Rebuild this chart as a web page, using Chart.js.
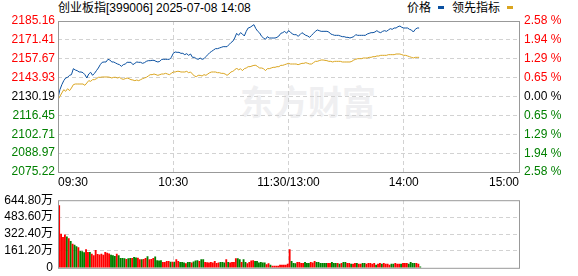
<!DOCTYPE html>
<html><head><meta charset="utf-8">
<script src="https://cdn.jsdelivr.net/npm/chart.js@4"></script>
<style>
html,body{margin:0;padding:0;width:578px;height:276px;overflow:hidden;background:#fff;font-family:"Liberation Sans",Arial,"Noto Sans CJK SC",sans-serif;}
#title{position:absolute;left:58px;top:1px;font-size:12px;line-height:15px;color:#000;white-space:nowrap;}
#legend{position:absolute;left:407px;top:1px;font-size:12px;line-height:15px;color:#000;white-space:nowrap;}
.mk{display:inline-block;width:6px;height:3px;vertical-align:3px;margin:0 8px 0 7px;}
#wm{position:absolute;left:240px;top:76px;font-size:34px;font-weight:bold;color:#efeff1;font-family:"Noto Sans CJK SC";white-space:nowrap;}
#c1{position:absolute;left:0;top:0;}
#c2{position:absolute;left:0;top:188px;}
</style></head>
<body>
<div id="wm">东方财富</div>
<div id="title">创业板指[399006] 2025-07-08 14:08</div>
<div id="legend">价格<span class="mk" style="background:#0a50a0"></span>领先指标<span class="mk" style="background:#daa520"></span></div>
<canvas id="c1" width="578" height="192"></canvas>
<canvas id="c2" width="578" height="92"></canvas>
<script>
const prevClose = 2130.19;
const priceTicks = [2075.22,2088.97,2102.71,2116.45,2130.19,2143.93,2157.67,2171.41,2185.16];
const pctTicks = [-2.58,-1.94,-1.29,-0.65,0,0.65,1.29,1.94,2.58];
const volTicks = [0,161.2,322.4,483.6,644.8];
const timeTicks = [0,60,120,180,240];
const timeLabels = ['09:30','10:30','11:30/13:00','14:00','15:00'];

const price = [
2129.10,2135.17,2138.81,2141.72,2143.66,2144.15,2145.60,2146.09,2150.46,2149.48,
2149.00,2148.03,2148.03,2147.54,2146.09,2143.66,2146.57,2147.79,2145.60,2147.06,
2149.00,2150.94,2153.37,2155.07,2155.31,2155.31,2157.25,2156.77,2155.31,2155.31,
2154.58,2153.85,2153.37,2152.15,2153.37,2153.85,2155.07,2155.07,2155.07,2153.37,
2154.34,2155.31,2155.07,2155.07,2154.34,2154.82,2155.79,2156.28,2156.28,2156.52,
2156.52,2155.79,2155.31,2155.79,2157.25,2157.25,2157.25,2157.25,2157.25,2158.71,
2161.62,2162.59,2162.35,2162.35,2161.62,2161.62,2160.65,2161.38,2160.16,2161.13,
2158.71,2158.71,2157.74,2157.25,2158.22,2157.25,2157.74,2159.19,2160.65,2162.10,
2163.08,2164.05,2165.02,2165.02,2165.50,2165.99,2166.47,2166.47,2166.47,2167.93,
2169.39,2170.36,2172.78,2176.18,2174.72,2176.67,2175.69,2174.24,2177.64,2180.06,
2180.55,2181.52,2182.49,2179.58,2177.64,2176.42,2174.00,2172.78,2171.81,2173.75,
2172.78,2172.78,2172.78,2172.78,2173.27,2174.24,2176.18,2176.67,2177.64,2176.18,
2178.12,2177.15,2175.69,2175.21,2175.21,2174.00,2175.21,2176.67,2175.69,2174.72,
2174.24,2173.27,2174.72,2176.18,2177.64,2178.61,2178.12,2177.64,2177.64,2177.64,
2177.64,2177.15,2175.69,2175.21,2174.72,2174.72,2174.72,2174.24,2173.75,2173.75,
2173.27,2173.27,2172.78,2173.27,2173.75,2175.21,2174.72,2174.72,2174.72,2174.72,
2174.72,2175.69,2176.18,2176.67,2176.67,2177.15,2178.12,2177.15,2176.67,2177.64,
2178.12,2177.64,2178.61,2179.58,2179.09,2180.06,2180.06,2181.03,2181.52,2180.55,
2180.06,2180.06,2180.06,2179.09,2178.61,2177.15,2179.09,2180.06,2180.06];

const lead = [
2127.89,2130.31,2132.74,2135.17,2133.95,2135.89,2134.44,2136.38,2138.81,2139.29,
2139.29,2139.29,2139.29,2139.29,2138.32,2140.02,2141.72,2141.23,2142.45,2142.45,
2143.17,2144.15,2144.15,2144.39,2144.39,2144.39,2144.39,2144.15,2143.66,2144.15,
2144.15,2143.66,2144.15,2143.17,2142.69,2143.17,2143.66,2143.17,2142.45,2142.20,
2141.72,2142.20,2141.72,2142.45,2143.17,2143.66,2144.15,2145.12,2146.09,2146.09,
2146.57,2146.09,2145.60,2146.09,2146.57,2146.57,2147.06,2146.57,2146.09,2147.06,
2148.03,2148.03,2148.51,2148.51,2148.03,2148.03,2148.03,2148.51,2147.54,2148.03,
2146.57,2145.12,2144.63,2145.60,2145.60,2145.12,2146.09,2145.60,2146.57,2147.54,
2148.03,2148.03,2148.03,2147.54,2147.54,2147.06,2147.06,2146.57,2145.60,2146.57,
2148.03,2148.51,2149.48,2150.94,2149.48,2150.46,2149.00,2150.46,2150.94,2151.91,
2151.91,2152.40,2152.88,2152.88,2151.91,2150.94,2150.94,2150.46,2149.00,2150.46,
2150.46,2150.94,2151.43,2151.43,2151.91,2151.91,2152.88,2152.88,2153.37,2153.85,
2154.34,2153.85,2153.85,2153.85,2153.85,2153.37,2153.85,2154.34,2154.34,2154.82,
2154.34,2153.85,2153.85,2154.82,2155.79,2155.79,2156.28,2156.77,2156.77,2156.52,
2156.28,2155.79,2155.79,2155.31,2155.79,2155.79,2155.79,2155.79,2155.31,2155.31,
2155.31,2155.31,2155.31,2155.79,2156.77,2157.25,2157.74,2157.74,2157.74,2158.22,
2158.22,2158.22,2158.71,2158.71,2159.19,2159.19,2159.68,2159.68,2160.16,2160.16,
2160.16,2160.16,2160.65,2160.65,2160.65,2160.65,2161.13,2161.13,2161.13,2160.65,
2160.16,2160.16,2159.68,2159.19,2158.71,2158.22,2158.71,2158.71,2158.71];

const volume = [
592.5,322.4,290.5,313.7,296.3,278.8,252.7,226.6,217.8,203.3,
191.7,156.8,153.9,145.2,174.3,148.1,148.1,130.7,116.2,165.6,
128.0,124.9,130.7,122.0,148.1,139.4,133.6,122.0,116.2,110.4,
130.7,116.2,90.0,90.0,87.1,81.3,87.1,90.0,90.0,98.8,
95.8,92.9,78.4,78.4,81.3,90.0,107.5,78.4,81.3,90.0,
104.6,69.7,66.8,69.7,52.3,52.3,61.0,61.0,55.2,55.2,
55.2,78.4,
61.0,52.3,52.3,46.5,40.7,52.3,52.3,46.5,58.1,66.8,
69.7,61.0,78.4,78.4,52.3,49.4,46.5,52.3,46.5,61.0,
43.6,46.5,52.3,52.3,46.5,78.4,52.3,46.5,52.3,52.3,
87.1,87.1,78.4,52.3,78.4,52.3,40.7,52.3,66.8,69.7,
61.0,61.0,46.5,52.3,46.5,46.5,31.9,40.7,26.1,17.4,
17.4,17.4,17.4,26.1,26.1,26.1,26.1,34.9,
174.3,
61.0,43.6,40.7,
52.3,52.3,43.6,43.6,52.3,43.6,43.6,52.3,46.5,61.0,
52.3,52.3,43.6,43.6,43.6,43.6,43.6,43.6,52.3,43.6,
43.6,43.6,34.9,43.6,52.3,52.3,43.6,43.6,34.9,34.9,
43.6,43.6,34.9,34.9,43.6,43.6,34.9,43.6,43.6,34.9,
43.6,26.1,34.9,43.6,34.9,43.6,34.9,34.9,26.1,34.9,
34.9,43.6,34.9,34.9,34.9,43.6,43.6,43.6,34.9,52.3,
43.6,43.6,43.6,34.9,8.7];

const volDir = [
1,1,1,1,-1,1,-1,1,-1,-1,
1,-1,-1,-1,1,1,-1,1,1,1,
1,1,1,1,1,1,1,-1,-1,-1,
1,-1,-1,-1,-1,1,-1,-1,1,-1,
-1,1,1,-1,1,1,-1,1,1,1,
-1,-1,-1,-1,1,1,1,1,-1,1,
-1,1,
1,-1,-1,-1,1,-1,-1,1,-1,-1,
-1,1,-1,-1,1,1,1,1,1,1,
1,1,-1,-1,-1,1,-1,1,1,1,
1,-1,-1,1,-1,-1,1,1,1,1,
-1,-1,-1,-1,-1,-1,1,1,-1,1,
1,1,1,1,1,1,1,1,
1,
-1,-1,-1,
1,1,1,1,-1,-1,-1,1,1,1,
-1,-1,-1,-1,-1,-1,1,1,-1,-1,
-1,1,-1,1,-1,-1,1,1,-1,1,
1,-1,1,1,-1,-1,1,1,1,1,
1,-1,1,1,-1,1,1,1,1,-1,
-1,1,1,1,-1,1,1,1,-1,-1,
-1,-1,1,1,-1];

const RED = '#ff0000', GREEN = '#008000', GRID = '#d2d2d2', FRAME = '#999999';
Chart.defaults.font.family = '"Liberation Sans", Arial, "Noto Sans CJK SC", sans-serif';
Chart.defaults.font.size = 12;
Chart.defaults.color = '#000';

const frame = {id:'frame', afterDraw(chart){
  const {ctx, chartArea:a} = chart;
  ctx.save(); ctx.strokeStyle = FRAME; ctx.lineWidth = 1;
  ctx.strokeRect(a.left + 0.5, a.top + 0.5, a.right - a.left, a.bottom - a.top);
  ctx.restore();
}};

function innerGrid(n){ return (c) => (c.index === 0 || c.index === n - 1) ? 'rgba(0,0,0,0)' : GRID; }

new Chart(document.getElementById('c1'), {
  type: 'line',
  data: { datasets: [
    { data: price.map((v,i)=>({x:i,y:v})), borderColor:'#0a50a0', borderWidth:1, pointRadius:0, tension:0, yAxisID:'y' },
    { data: lead.map((v,i)=>({x:i,y:v})), borderColor:'#daa520', borderWidth:1, pointRadius:0, tension:0, yAxisID:'y' }
  ]},
  options: {
    responsive:false, animation:false, events:[],
    layout:{ padding:{ top:21, left:0, right:0, bottom:0 } },
    plugins:{ legend:{display:false}, tooltip:{enabled:false} },
    scales: {
      x: { type:'linear', min:0, max:240,
        afterBuildTicks: s => { s.ticks = timeTicks.map(v=>({value:v})); },
        afterFit: s => { s.height = 20; },
        ticks:{ callback:(v,i)=>timeLabels[i], align:'inner', maxRotation:0, autoSkip:false, padding:3, color:'#000' },
        grid:{ color: innerGrid(timeTicks.length), drawTicks:false, lineWidth:1 },
        border:{ display:false, dash:[4,3] } },
      y: { type:'linear', position:'left', min:priceTicks[0], max:priceTicks[priceTicks.length-1],
        afterBuildTicks: s => { s.ticks = priceTicks.map(v=>({value:v})); },
        afterFit: s => { s.width = 58; },
        ticks:{ callback:v=>v.toFixed(2), padding:3,
          color: c => c.tick.value > prevClose + 0.001 ? RED : (c.tick.value < prevClose - 0.001 ? GREEN : '#000') },
        grid:{ color: innerGrid(priceTicks.length), drawTicks:false },
        border:{ display:false, dash:[4,3] } },
      y2: { type:'linear', position:'right', min:pctTicks[0], max:pctTicks[pctTicks.length-1],
        afterBuildTicks: s => { s.ticks = pctTicks.map(v=>({value:v})); },
        afterFit: s => { s.width = 59; },
        ticks:{ callback:v=>Math.abs(v).toFixed(2)+' %', padding:5,
          color: c => c.tick.value > 0.001 ? RED : (c.tick.value < -0.001 ? GREEN : '#000') },
        grid:{ display:false, drawTicks:false },
        border:{ display:false } }
    }
  },
  plugins:[frame]
});

new Chart(document.getElementById('c2'), {
  type: 'bar',
  data: { datasets: [
    { data: volume.map((v,i)=>({x:i,y:v})), backgroundColor: volDir.map(d => d > 0 ? RED : GREEN), barThickness:1.2, borderWidth:0, xAxisID:'xb' }
  ]},
  options: {
    responsive:false, animation:false, events:[],
    layout:{ padding:{ top:8, left:0, right:59, bottom:10 } },
    plugins:{ legend:{display:false}, tooltip:{enabled:false} },
    scales: {
      x: { type:'linear', min:0, max:240, offset:false,
        afterBuildTicks: s => { s.ticks = timeTicks.map(v=>({value:v})); },
        afterFit: s => { s.height = 0; },
        ticks:{ display:false },
        grid:{ color: innerGrid(timeTicks.length), drawTicks:false, offset:false },
        border:{ display:false, dash:[4,3] } },
      xb: { type:'linear', min:-0.6, max:239.4, offset:false, display:false },
      y: { type:'linear', position:'left', min:volTicks[0], max:volTicks[volTicks.length-1],
        afterBuildTicks: s => { s.ticks = volTicks.map(v=>({value:v})); },
        afterFit: s => { s.width = 58; },
        ticks:{ callback:v => v === 0 ? '0' : v.toFixed(2)+'万', padding:5, color:'#000' },
        grid:{ color: innerGrid(volTicks.length), drawTicks:false },
        border:{ display:false, dash:[4,3] } }
    }
  },
  plugins:[frame]
});
</script>
</body></html>
